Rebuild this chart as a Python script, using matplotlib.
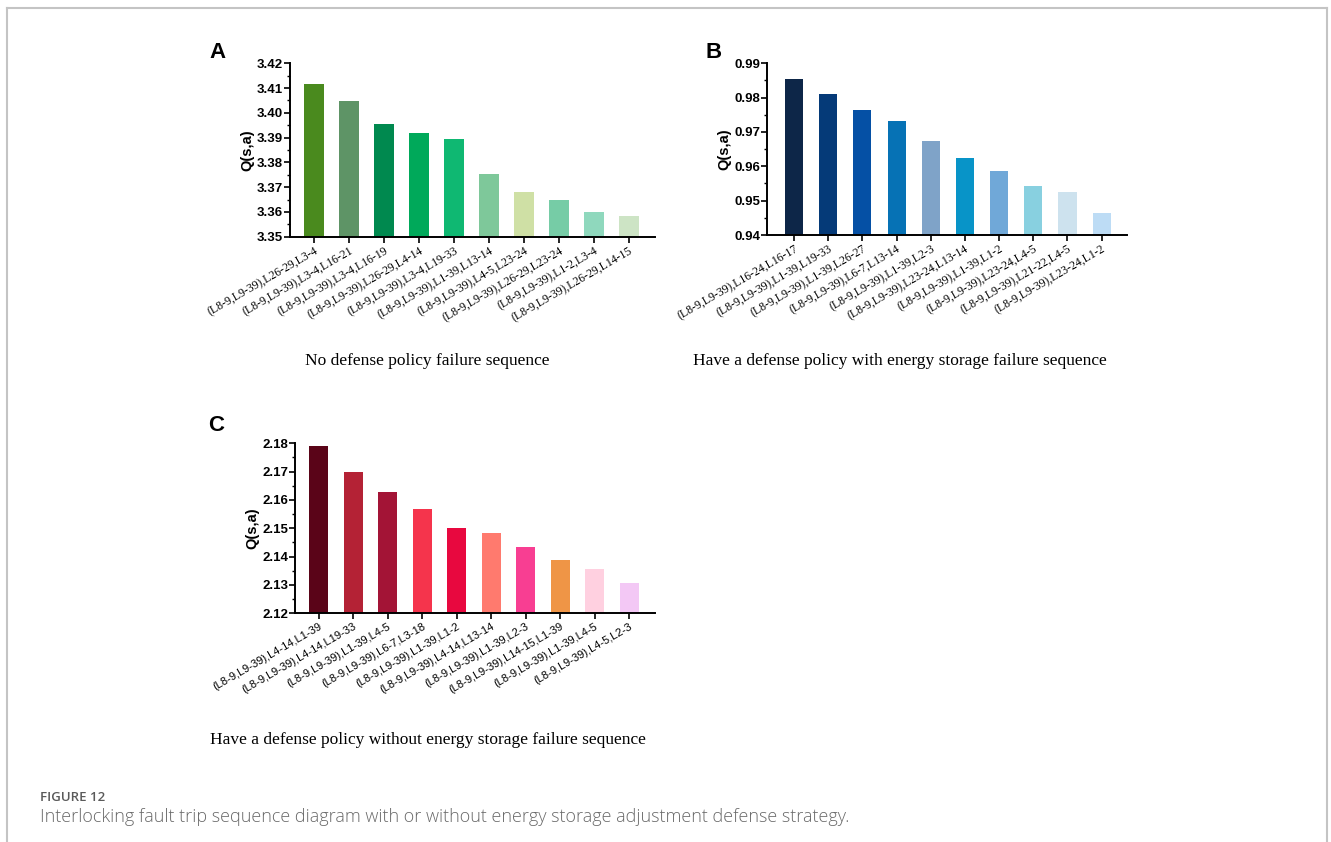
import matplotlib
matplotlib.use("Agg")
import matplotlib.pyplot as plt
import numpy as np
from matplotlib.ticker import MultipleLocator, AutoMinorLocator
from matplotlib.lines import Line2D

# panel A: no defense policy
labels_a = ["(L8-9,L9-39),L26-29,L3-4", "(L8-9,L9-39),L3-4,L16-21", "(L8-9,L9-39),L3-4,L16-19",
            "(L8-9,L9-39),L26-29,L4-14", "(L8-9,L9-39),L3-4,L19-33", "(L8-9,L9-39),L1-39,L13-14",
            "(L8-9,L9-39),L4-5,L23-24", "(L8-9,L9-39),L26-29,L23-24", "(L8-9,L9-39),L1-2,L3-4",
            "(L8-9,L9-39),L26-29,L14-15"]
q_a = [3.4116, 3.4048, 3.3957, 3.3917, 3.3893, 3.3753, 3.3681, 3.3648, 3.3598, 3.3585]
colors_a = ["#4a8a1e", "#5e9466", "#00894f", "#00a95a", "#0fb872", "#7ec89a",
            "#cfe0a5", "#76cca6", "#8fd8bd", "#cde4c5"]

# panel B: defense policy with energy storage
labels_b = ["(L8-9,L9-39),L16-24,L16-17", "(L8-9,L9-39),L1-39,L19-33", "(L8-9,L9-39),L1-39,L26-27",
            "(L8-9,L9-39),L6-7,L13-14", "(L8-9,L9-39),L1-39,L2-3", "(L8-9,L9-39),L23-24,L13-14",
            "(L8-9,L9-39),L1-39,L1-2", "(L8-9,L9-39),L23-24,L4-5", "(L8-9,L9-39),L21-22,L4-5",
            "(L8-9,L9-39),L23-24,L1-2"]
q_b = [0.9854, 0.9810, 0.9764, 0.9732, 0.9674, 0.9625, 0.9586, 0.9543, 0.9526, 0.9465]
colors_b = ["#0d2648", "#053a78", "#0550a5", "#0672b5", "#7fa3c8", "#0894c8",
            "#70a8d8", "#88d0e0", "#cde2ee", "#bddcf5"]

# panel C: defense policy without energy storage
labels_c = ["(L8-9,L9-39),L4-14,L1-39", "(L8-9,L9-39),L4-14,L19-33", "(L8-9,L9-39),L1-39,L4-5",
            "(L8-9,L9-39),L6-7,L3-18", "(L8-9,L9-39),L1-39,L1-2", "(L8-9,L9-39),L4-14,L13-14",
            "(L8-9,L9-39),L1-39,L2-3", "(L8-9,L9-39),L14-15,L1-39", "(L8-9,L9-39),L1-39,L4-5",
            "(L8-9,L9-39),L4-5,L2-3"]
q_c = [2.1792, 2.1698, 2.1629, 2.1567, 2.1502, 2.1485, 2.1435, 2.1387, 2.1355, 2.1306]
colors_c = ["#5a0418", "#b42235", "#a31436", "#f5344c", "#e8083f", "#ff7a6e",
            "#f83e92", "#ef9546", "#ffd0e0", "#f3c8f5"]

fig = plt.figure(figsize=(13.31, 8.42), dpi=100)

# thin grey frame around the figure panel
for xs, ys in [([0.0056, 0.0056], [0.0, 0.990]), ([0.0056, 0.9973], [0.990, 0.990]),
               ([0.9973, 0.9973], [0.0, 0.990])]:
    fig.add_artist(Line2D(xs, ys, color="#c4c4c4", lw=1.5, transform=fig.transFigure))


def bar_panel(rect, vals, cols, labels, ylim, xlim, width, tick_font, tick_size):
    ax = fig.add_axes(rect)
    x = np.arange(len(vals))
    ax.bar(x, [v - ylim[0] for v in vals], bottom=ylim[0], width=width, color=cols)
    ax.set_ylim(*ylim)
    ax.set_xlim(*xlim)
    ax.yaxis.set_major_locator(MultipleLocator(0.01))
    ax.yaxis.set_minor_locator(AutoMinorLocator(2))
    ax.yaxis.set_major_formatter(matplotlib.ticker.FormatStrFormatter("%.2f"))
    for s in ["top", "right"]:
        ax.spines[s].set_visible(False)
    for s in ["left", "bottom"]:
        ax.spines[s].set_linewidth(1.4)
    ax.tick_params(axis="y", which="major", length=4, width=1.2, labelsize=9.5, pad=1)
    ax.tick_params(axis="y", which="minor", length=2.5, width=1.0)
    ax.tick_params(axis="x", length=4, width=1.2, pad=2)
    for t in ax.get_yticklabels():
        t.set_fontweight("bold")
        t.set_family("Liberation Sans")
    ax.set_xticks(x)
    ax.set_xticklabels(labels, rotation=30, ha="right", rotation_mode="anchor",
                       family=tick_font, fontsize=tick_size)
    ax.set_ylabel("Q(s,a)", fontsize=10.5, fontweight="bold", family="Liberation Sans", labelpad=2)
    return ax


bar_panel([0.2179, 0.7189, 0.2742, 0.2059], q_a, colors_a, labels_a,
          (3.35, 3.42), (-0.686, 9.74), 0.57, "Liberation Serif", 8.5)
bar_panel([0.5763, 0.7209, 0.2704, 0.2039], q_b, colors_b, labels_b,
          (0.94, 0.99), (-0.79, 9.74), 0.53, "Liberation Serif", 8.5)
bar_panel([0.2216, 0.2716, 0.2705, 0.2019], q_c, colors_c, labels_c,
          (2.12, 2.18), (-0.69, 9.75), 0.55, "Liberation Sans", 8)

# panel letters
for lx, ly, s in [(0.157, 0.938, "A"), (0.530, 0.938, "B"), (0.156, 0.495, "C")]:
    fig.text(lx, ly, s, fontsize=16, fontweight="bold", family="Liberation Sans", va="center")

# sub-captions under each panel
fig.text(0.3212, 0.571, "No defense policy failure sequence",
         fontsize=12.5, family="Liberation Serif", ha="center", va="center")
fig.text(0.6762, 0.571, "Have a defense policy with energy storage failure sequence",
         fontsize=12.5, family="Liberation Serif", ha="center", va="center")
fig.text(0.3212, 0.121, "Have a defense policy without energy storage failure sequence",
         fontsize=12.5, family="Liberation Serif", ha="center", va="center")

# figure caption
fig.text(0.030, 0.0534, "FIGURE 12", fontsize=9.5, family="Open Sans", fontweight="semibold",
         color="#5a5a5a", va="center")
fig.text(0.030, 0.0297,
         "Interlocking fault trip sequence diagram with or without energy storage adjustment defense strategy.",
         fontsize=13, family="Open Sans", fontweight="light", color="#6a6a6a", va="center")

fig.savefig("out.png", dpi=100)
